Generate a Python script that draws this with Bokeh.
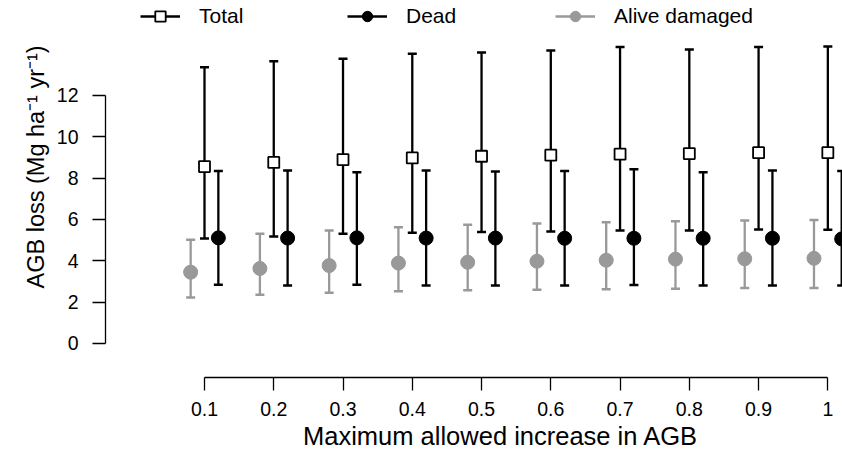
from bokeh.plotting import figure
from bokeh.models import (Range1d, FixedTicker, Legend, LegendItem, Title,
                          ColumnDataSource)
from bokeh.transform import dodge
from bokeh.embed import file_html
from bokeh.resources import INLINE

# ---------------- data ----------------
x_vals = [0.1, 0.2, 0.3, 0.4, 0.5, 0.6, 0.7, 0.8, 0.9, 1.0]
x_tick_labels = ["0.1", "0.2", "0.3", "0.4", "0.5", "0.6", "0.7", "0.8", "0.9", "1"]
y_ticks = [0, 2, 4, 6, 8, 10, 12]

total_mean = [8.56, 8.76, 8.90, 8.98, 9.06, 9.11, 9.16, 9.19, 9.23, 9.23]
total_lower = [5.08, 5.18, 5.31, 5.36, 5.40, 5.42, 5.47, 5.47, 5.52, 5.50]
total_upper = [13.37, 13.66, 13.77, 14.02, 14.08, 14.17, 14.34, 14.22, 14.34, 14.37]

dead_mean = [5.11, 5.10, 5.11, 5.10, 5.10, 5.09, 5.09, 5.09, 5.09, 5.06]
dead_lower = [2.84, 2.81, 2.84, 2.81, 2.81, 2.81, 2.83, 2.81, 2.81, 2.80]
dead_upper = [8.34, 8.37, 8.29, 8.37, 8.32, 8.34, 8.43, 8.29, 8.37, 8.34]

alive_mean = [3.45, 3.63, 3.77, 3.89, 3.93, 3.98, 4.03, 4.08, 4.10, 4.12]
alive_lower = [2.23, 2.36, 2.45, 2.53, 2.58, 2.60, 2.63, 2.65, 2.68, 2.69]
alive_upper = [5.02, 5.31, 5.47, 5.63, 5.74, 5.81, 5.87, 5.92, 5.95, 5.98]

x_title = "Maximum allowed increase in AGB"
y_title = "AGB loss (Mg ha\u207b\u00b9 yr\u207b\u00b9)"

# ---------------- figure ----------------
FONT = "Liberation Sans"
BLACK = "#000000"
GREY = "#999999"

p = figure(width=842, height=458, output_backend="svg", toolbar_location=None,
           x_range=Range1d(-0.04294, 1.02117), y_range=Range1d(-1.645, 16.594),
           min_border_left=105, min_border_right=0, min_border_top=0,
           min_border_bottom=81)
p.grid.visible = False
p.outline_line_color = None

src = ColumnDataSource(dict(
    x=x_vals,
    total_mean=total_mean, total_lower=total_lower, total_upper=total_upper,
    dead_mean=dead_mean, dead_lower=dead_lower, dead_upper=dead_upper,
    alive_mean=alive_mean, alive_lower=alive_lower, alive_upper=alive_upper,
))


def series(key, offset, color, marker, size, fill, lw):
    xs = dodge("x", offset, range=p.x_range)
    seg = p.segment(x0=xs, y0=f"{key}_lower", x1=xs, y1=f"{key}_upper",
                    source=src, line_color=color, line_width=2.3)
    for end in ("lower", "upper"):
        p.scatter(x=xs, y=f"{key}_{end}", marker="dash", size=9,
                  line_color=color, line_width=2.5, source=src)
    pts = p.scatter(x=xs, y=f"{key}_mean", marker=marker, size=size,
                    fill_color=fill, line_color=color, line_width=lw, source=src)
    return seg, pts


tot = series("total", 0.0, BLACK, "square", 11, "white", 1.8)
dead = series("dead", 0.02, BLACK, "circle", 14, BLACK, 1)
alive = series("alive", -0.02, GREY, "circle", 14, GREY, 1)

# ---------------- axes ----------------
for ax, ticks, bnds in ((p.xaxis[0], x_vals, (x_vals[0], x_vals[-1])),
                        (p.yaxis[0], y_ticks, (y_ticks[0], y_ticks[-1]))):
    ax.ticker = FixedTicker(ticks=ticks)
    ax.bounds = bnds
    ax.major_tick_out = 13
    ax.major_tick_in = 0
    ax.minor_tick_line_color = None
    ax.axis_line_width = 1.3
    ax.major_tick_line_width = 1.3
    ax.axis_line_color = BLACK
    ax.major_tick_line_color = BLACK
    ax.major_label_text_font = FONT
    ax.major_label_text_font_size = "19.5px"
    ax.major_label_text_color = BLACK

p.xaxis[0].major_label_overrides = {v: s for v, s in zip(x_vals, x_tick_labels)}
p.xaxis[0].major_label_standoff = 11
p.yaxis[0].major_label_standoff = 14

# axis titles
p.add_layout(Title(text=x_title, align="left", offset=197.5, standoff=3,
                   text_font=FONT, text_font_size="25.5px",
                   text_font_style="normal", text_color=BLACK), "below")
p.add_layout(Title(text=y_title, align="left", offset=89, standoff=10,
                   text_font=FONT, text_font_size="23.5px",
                   text_font_style="normal", text_color=BLACK), "left")

# ---------------- legends ----------------
def add_legend(label, renderers, x, y):
    lg = Legend(items=[LegendItem(label=label, renderers=list(renderers))],
                location=(x, y), orientation="horizontal",
                glyph_width=40, glyph_height=26, label_standoff=19,
                padding=0, margin=0, spacing=0,
                border_line_color=None, background_fill_alpha=0,
                label_text_font=FONT, label_text_font_size="21px",
                label_text_color=BLACK)
    p.add_layout(lg)


add_legend("Total", tot, 35, 348)
add_legend("Dead", dead, 242, 348)
add_legend("Alive damaged", alive, 450, 348)

open("out.html", "w").write(file_html(p, INLINE))
